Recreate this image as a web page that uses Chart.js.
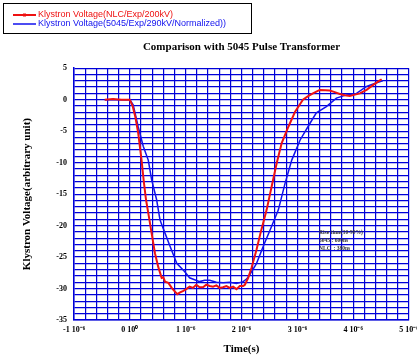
<!DOCTYPE html>
<html>
<head>
<meta charset="utf-8">
<script src="https://cdn.jsdelivr.net/npm/chart.js@4"></script>
<style>
  html, body { margin: 0; padding: 0; background: #fff; }
  #wrap { width: 417px; height: 358px; }
</style>
</head>
<body>
<div id="wrap"><canvas id="pulseChart"></canvas></div>
<script>
// time in microseconds, voltage in arbitrary units
const nlcTime = [-0.45, -0.3, -0.15, 0.0, 0.05, 0.10, 0.15, 0.21, 0.25, 0.29, 0.34, 0.39, 0.45, 0.51, 0.57, 0.60, 0.63, 0.69, 0.75, 0.80, 0.85, 0.90, 0.95, 1.01, 1.07, 1.13, 1.19, 1.25, 1.31, 1.37, 1.43, 1.49, 1.55, 1.61, 1.67, 1.73, 1.79, 1.85, 1.91, 1.97, 2.03, 2.06, 2.12, 2.18, 2.27, 2.34, 2.45, 2.54, 2.63, 2.72, 2.84, 2.96, 3.10, 3.20, 3.28, 3.40, 3.50, 3.58, 3.67, 3.76, 3.85, 3.94, 4.03, 4.12, 4.24, 4.36, 4.45, 4.51];
const nlcVolt = [0, 0.1, 0, 0, -1.0, -2.8, -5.3, -9.6, -13.0, -15.9, -18.5, -21.2, -24.4, -26.6, -28.3, -28.2, -28.9, -29.1, -29.9, -30.4, -30.9, -30.6, -30.4, -30.1, -29.7, -29.9, -29.4, -29.8, -29.8, -29.4, -29.6, -29.7, -29.5, -29.9, -29.8, -29.6, -29.9, -29.7, -30.1, -29.6, -29.6, -29.4, -28.3, -26.7, -23.8, -21.2, -17.5, -13.8, -10.1, -6.9, -4.3, -1.9, 0.0, 0.6, 1.0, 1.55, 1.5, 1.45, 1.2, 0.9, 0.7, 0.6, 0.8, 1.0, 1.55, 2.35, 2.9, 3.25];

const pt5045Time = [-0.45, -0.3, -0.15, 0.0, 0.06, 0.15, 0.24, 0.33, 0.39, 0.48, 0.54, 0.63, 0.72, 0.84, 0.98, 1.07, 1.16, 1.25, 1.34, 1.43, 1.55, 1.67, 1.79, 1.91, 2.03, 2.09, 2.15, 2.27, 2.39, 2.54, 2.66, 2.78, 2.90, 3.05, 3.19, 3.34, 3.52, 3.70, 3.88, 4.06, 4.24, 4.42, 4.53];
const pt5045Volt = [0, 0, 0, 0, -0.8, -4.3, -7.4, -9.6, -12.7, -15.9, -19.1, -21.2, -23.3, -26.0, -27.3, -28.3, -28.6, -28.9, -28.7, -28.7, -29.0, -29.1, -29.0, -29.2, -28.9, -28.5, -27.8, -26.0, -23.3, -20.1, -17.5, -13.3, -9.6, -6.4, -4.3, -2.1, -1.1, 0.25, 0.76, 1.0, 2.1, 2.7, 3.0];

const seriesLabels = ['Klystron Voltage(NLC/Exp/200kV)', 'Klystron Voltage(5045/Exp/290kV/Normalized))'];
const noteLines = ['Rise time(10-90%)', '5045 : 600ns', 'NLC  : 380ns'];

const toPoints = (xs, ys) => xs.map((x, i) => ({ x: x, y: ys[i] }));

const gridBlue = '#0000d8';
const serifBold = { family: 'Liberation Serif', weight: 'bold' };

const overlay = {
    id: 'overlay',
    afterDraw(chart) {
        const ctx = chart.ctx;
        ctx.save();
        // legend frame
        ctx.strokeStyle = '#000';
        ctx.lineWidth = 1;
        ctx.strokeRect(3.5, 3.5, 248, 30);
        ctx.font = '9px "Liberation Sans"';
        ctx.textBaseline = 'middle';
        chart.data.datasets.forEach(function (ds, i) {
            const y = 15 + i * 9;
            ctx.strokeStyle = ds.borderColor;
            ctx.lineWidth = i === 0 ? 2 : 1.5;
            ctx.beginPath();
            ctx.moveTo(13, y);
            ctx.lineTo(36, y);
            ctx.stroke();
            if (i === 0) {
                ctx.fillStyle = ds.borderColor;
                ctx.fillRect(23, y - 1.5, 3, 3);
            }
            ctx.fillStyle = ds.borderColor;
            ctx.fillText(ds.label, 38, y);
        });
        // rise time note inside the plot
        const xs = chart.scales.x, ys = chart.scales.y;
        ctx.fillStyle = '#333';
        ctx.font = 'bold 5.5px "Liberation Serif"';
        noteLines.forEach(function (t, i) {
            ctx.fillText(t, xs.getPixelForValue(3.39), ys.getPixelForValue(-21.1 - i * 1.3));
        });
        ctx.restore();
    }
};

new Chart(document.getElementById('pulseChart'), {
    type: 'line',
    data: {
        datasets: [{
            label: seriesLabels[0],
            data: toPoints(nlcTime, nlcVolt),
            borderColor: '#ee1111',
            borderWidth: 2,
            pointRadius: 0,
            tension: 0
        }, {
            label: seriesLabels[1],
            data: toPoints(pt5045Time, pt5045Volt),
            borderColor: '#1111ee',
            borderWidth: 1.5,
            pointRadius: 0,
            tension: 0
        }]
    },
    options: {
        responsive: true,
        maintainAspectRatio: false,
        animation: false,
        layout: { padding: { top: 36, right: 8, left: 0, bottom: 0 } },
        plugins: {
            legend: { display: false },
            tooltip: { enabled: false },
            title: {
                display: true,
                fullSize: false,
                text: 'Comparison with 5045 Pulse Transformer',
                color: '#000',
                font: { family: 'Liberation Serif', weight: 'bold', size: 11 },
                padding: { top: 5, bottom: 14 }
            }
        },
        scales: {
            x: {
                type: 'linear',
                min: -1,
                max: 5,
                grid: { color: gridBlue, lineWidth: 1.2, drawTicks: false },
                border: { color: gridBlue, width: 1.5 },
                ticks: {
                    stepSize: 0.2,
                    autoSkip: false,
                    maxRotation: 0,
                    padding: 5,
                    color: '#000',
                    font: Object.assign({ size: 8 }, serifBold),
                    callback: function (v) {
                        const n = Math.round(v);
                        if (Math.abs(v - n) > 1e-6) return '';
                        return n === 0 ? '0 10\u2070' : n + ' 10\u207b\u2076';
                    }
                },
                title: {
                    display: true,
                    text: 'Time(s)',
                    color: '#000',
                    font: Object.assign({ size: 11 }, serifBold),
                    padding: { top: 0, bottom: 2 }
                },
                afterFit: function (s) { s.height = 38; s.paddingLeft = 0; s.paddingRight = 0; }
            },
            y: {
                min: -35,
                max: 5,
                grid: { color: gridBlue, lineWidth: 1.2, drawTicks: false },
                border: { color: gridBlue, width: 1.5 },
                ticks: {
                    stepSize: 1,
                    autoSkip: false,
                    padding: 7,
                    color: '#000',
                    font: Object.assign({ size: 8 }, serifBold),
                    callback: function (v) { return v % 5 === 0 ? String(v) : ''; }
                },
                title: {
                    display: true,
                    text: 'Klystron Voltage(arbitrary unit)',
                    color: '#000',
                    font: Object.assign({ size: 11 }, serifBold),
                    padding: { top: 21, bottom: 0 }
                },
                afterFit: function (s) { s.width = 74; s.paddingTop = 0; s.paddingBottom = 0; }
            }
        }
    },
    plugins: [overlay]
});
</script>
</body>
</html>
